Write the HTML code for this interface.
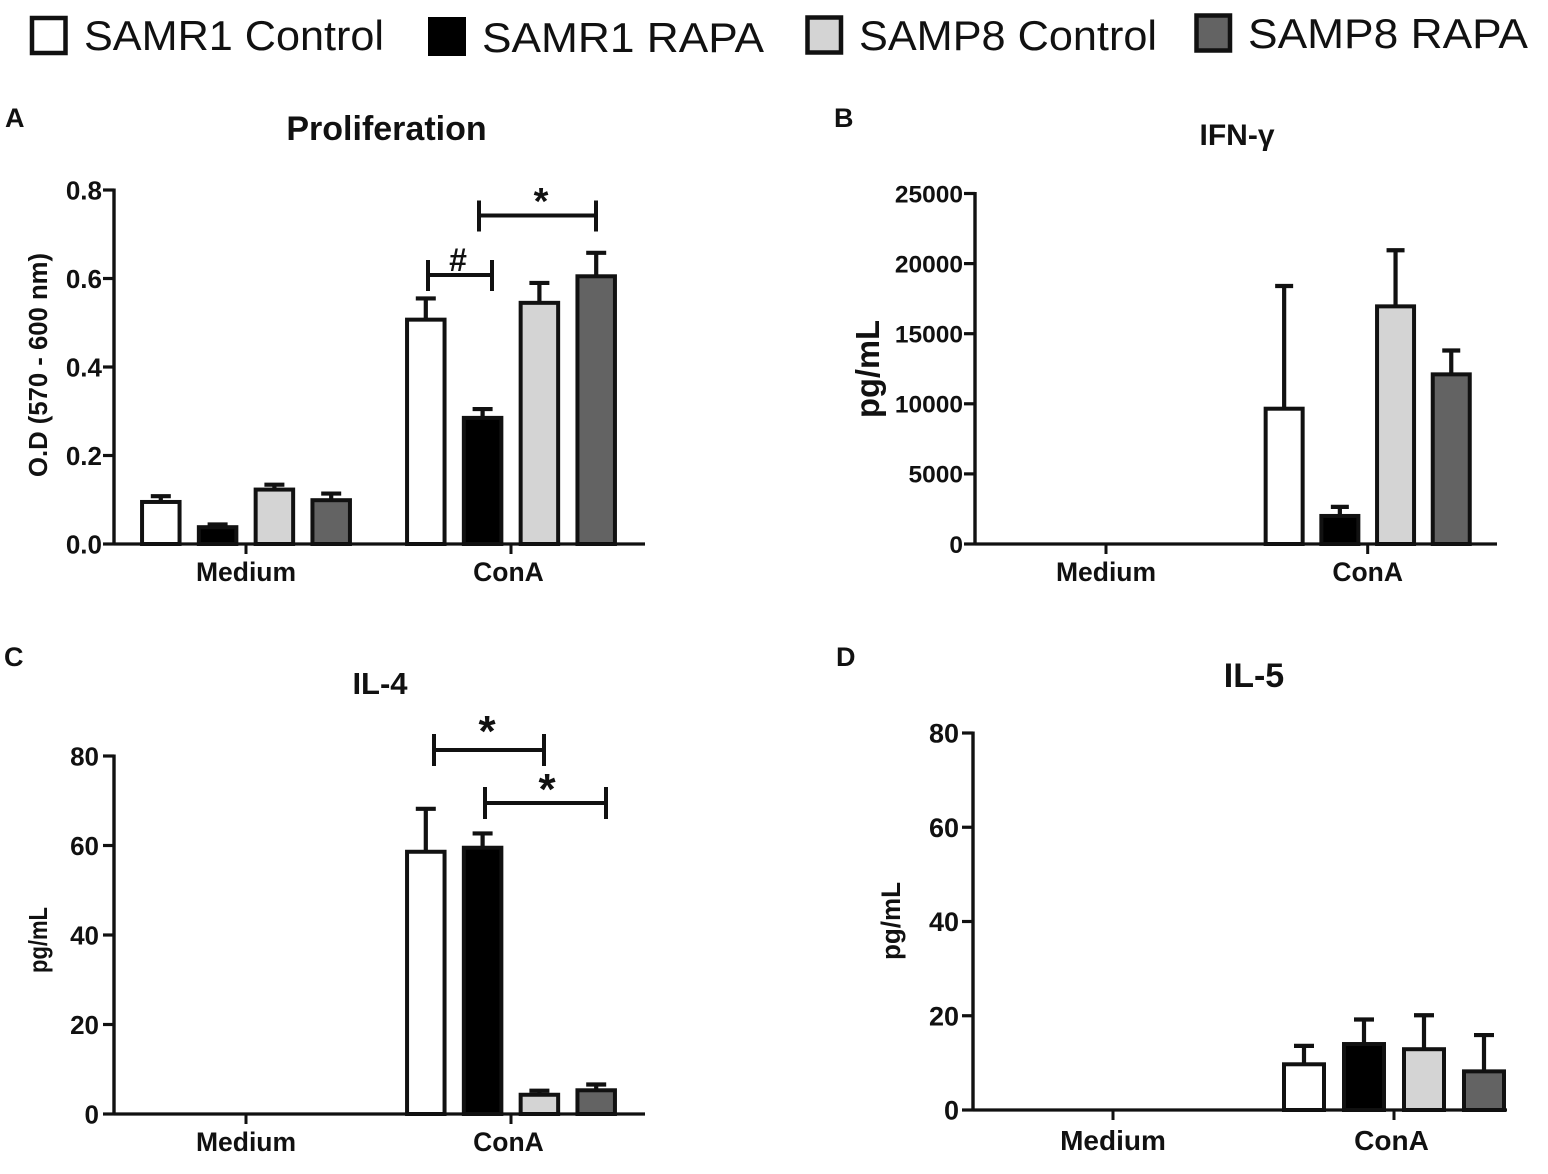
<!DOCTYPE html>
<html lang="en">
<head>
<meta charset="utf-8">
<title>SAMR1 and SAMP8 bar charts</title>
<style>
html,body{margin:0;padding:0;background:#fff;width:1548px;height:1174px;overflow:hidden}
svg{display:block}
text{font-family:"Liberation Sans",Arial,sans-serif;fill:#111}
.b{font-weight:bold}
</style>
</head>
<body>
<svg id="chart" xmlns="http://www.w3.org/2000/svg" width="1548" height="1174" viewBox="0 0 1548 1174">
  <g>
    <g>
      <rect x="32" y="18" width="33.5" height="35" fill="#fff" stroke="#111" stroke-width="4.5"/>
      <text x="84" y="50" font-size="42" textLength="300" lengthAdjust="spacingAndGlyphs">SAMR1 Control</text>
    </g>
    <g>
      <rect x="428" y="17" width="38" height="39" fill="#000"/>
      <text x="482" y="52" font-size="42" textLength="282" lengthAdjust="spacingAndGlyphs">SAMR1 RAPA</text>
    </g>
    <g>
      <rect x="807.5" y="17.5" width="33.5" height="35" fill="#d4d4d4" stroke="#111" stroke-width="4.5"/>
      <text x="859" y="50" font-size="42" textLength="298" lengthAdjust="spacingAndGlyphs">SAMP8 Control</text>
    </g>
    <g>
      <rect x="1196.5" y="15.5" width="33.5" height="35" fill="#636363" stroke="#111" stroke-width="4.5"/>
      <text x="1248" y="48" font-size="42" textLength="280" lengthAdjust="spacingAndGlyphs">SAMP8 RAPA</text>
    </g>
  </g>
  <text class="b" x="5" y="127" font-size="27">A</text>
  <text class="b" x="834" y="127" font-size="27">B</text>
  <text class="b" x="4" y="666" font-size="27">C</text>
  <text class="b" x="836" y="666" font-size="27">D</text>
</svg>
<script>
// Shared categories and series
const categories = ["Medium", "ConA"];
const seriesNames = ["samr1-control", "samr1-rapa", "samp8-control", "samp8-rapa"];
const seriesFills = ["#ffffff", "#000000", "#d4d4d4", "#636363"];

// Panel A: Proliferation
const proliferationMedium = [0.095, 0.038, 0.123, 0.099];
const proliferationConA = [0.507, 0.285, 0.545, 0.605];
const proliferationMediumErr = [0.013, 0.006, 0.011, 0.015];
const proliferationConAErr = [0.048, 0.02, 0.045, 0.053];
const proliferationTicks = [0, 0.2, 0.4, 0.6, 0.8];
const proliferationTickLabels = ["0.0", "0.2", "0.4", "0.6", "0.8"];

// Panel B: IFN-gamma
const ifnMedium = [0, 0, 0, 0];
const ifnConA = [9650, 2000, 16950, 12100];
const ifnMediumErr = [0, 0, 0, 0];
const ifnConAErr = [8750, 650, 4000, 1700];
const ifnTicks = [0, 5000, 10000, 15000, 20000, 25000];
const ifnTickLabels = ["0", "5000", "10000", "15000", "20000", "25000"];

// Panel C: IL-4
const il4Medium = [0, 0, 0, 0];
const il4ConA = [58.6, 59.5, 4.3, 5.3];
const il4MediumErr = [0, 0, 0, 0];
const il4ConAErr = [9.6, 3.2, 0.9, 1.3];
const il4Ticks = [0, 20, 40, 60, 80];
const il4TickLabels = ["0", "20", "40", "60", "80"];

// Panel D: IL-5
const il5Medium = [0, 0, 0, 0];
const il5ConA = [9.7, 14, 12.9, 8.2];
const il5MediumErr = [0, 0, 0, 0];
const il5ConAErr = [3.9, 5.2, 7.2, 7.7];
const il5Ticks = [0, 20, 40, 60, 80];
const il5TickLabels = ["0", "20", "40", "60", "80"];

const NS = "http://www.w3.org/2000/svg";
const root = document.getElementById("chart");

function make(parent, tag, attrs, text) {
  const el = document.createElementNS(NS, tag);
  for (const k in attrs) el.setAttribute(k, attrs[k]);
  if (text !== undefined) el.textContent = text;
  parent.appendChild(el);
  return el;
}

function drawPanel(p) {
  const yScale = v => p.y0 - (v / p.yMax) * (p.y0 - p.yTop);
  const groupX = g => p.firstGroup + g * p.groupStep;
  const barX = (g, s) => groupX(g) + (s - 1.5) * p.barStep;

  const g = make(root, "g", {});
  
  

  const title = make(g, "text", {class: "b", x: p.titleX, y: p.titleY, "font-size": p.titleSize, "text-anchor": "middle"}, p.title);
  
  

  const yTitle = make(g, "text", {class: "b", transform: "translate(" + p.yTitleX + "," + p.yTitleY + ") rotate(-90)", "font-size": p.yTitleSize, "text-anchor": "middle", textLength: p.yTitleLength, lengthAdjust: "spacingAndGlyphs"}, p.yTitle);
  
  

  [p.groupA, p.groupB].forEach((vals, gi) => {
    const errs = gi === 0 ? p.errA : p.errB;
    vals.forEach((v, si) => {
      if (v <= 0) return;
      const cx = barX(gi, si);
      const top = yScale(v);
      const eTop = yScale(v + errs[si]);
      const errLine = make(g, "path", {d: "M" + cx + " " + top + "V" + eTop + "M" + (cx - p.capW) + " " + eTop + "H" + (cx + p.capW), fill: "none", stroke: "#111", "stroke-width": 4.2});
      
      
      const bar = make(g, "rect", {x: cx - p.barW / 2, y: top, width: p.barW, height: p.y0 - top, fill: seriesFills[si], stroke: "#111", "stroke-width": 4});
      
      
    });
  });

  const yAxis = make(g, "line", {x1: p.x0, x2: p.x0, y1: p.yTop - 1.5, y2: p.y0 + 1.5, stroke: "#111", "stroke-width": 3.4});
  
  
  const xAxis = make(g, "line", {x1: p.x0, x2: p.x1, y1: p.y0, y2: p.y0, stroke: "#111", "stroke-width": 3.2});
  
  

  p.ticks.forEach((t, i) => {
    const y = yScale(t);
    const tick = make(g, "line", {x1: p.x0 - 11, x2: p.x0, y1: y, y2: y, stroke: "#111", "stroke-width": 3.2});
    
    
    const label = make(g, "text", {class: "b", x: p.x0 - p.tickGap, y: y + p.tickSize * 0.36, "font-size": p.tickSize, "text-anchor": "end"}, p.tickLabels[i]);
    
    
  });

  categories.forEach((c, i) => {
    const x = groupX(i);
    const tick = make(g, "line", {x1: x, x2: x, y1: p.y0, y2: p.y0 + 10, stroke: "#111", "stroke-width": 3});
    
    
    const label = make(g, "text", {class: "b", x: x + (i === 1 ? p.conALabelShift : 0), y: p.y0 + p.catGap, "font-size": p.catSize, "text-anchor": "middle"}, c);
    
    
  });
  return g;
}

function bracket(parent, name, x1, x2, y, h1, h2, mark, mx, my, size) {
  const path = make(parent, "path", {d: "M" + x1 + " " + (y - h1) + "V" + (y + h2) + "M" + x1 + " " + y + "H" + x2 + "M" + x2 + " " + (y - h1) + "V" + (y + h2), fill: "none", stroke: "#111", "stroke-width": 4});
  
  
  const label = make(parent, "text", {class: "b", x: mx, y: my, "font-size": size, "text-anchor": "middle"}, mark);
  
  
}

const panelA = drawPanel({name: "proliferation", title: "Proliferation", titleX: 386.5, titleY: 140, titleSize: 34,
  yTitle: "O.D (570 - 600 nm)", yTitleX: 47, yTitleY: 365, yTitleSize: 25.5, yTitleLength: 224,
  x0: 114, x1: 645, y0: 544, yTop: 190, yMax: 0.8, firstGroup: 246, groupStep: 265, barStep: 56.8, barW: 37.5, capW: 10,
  ticks: proliferationTicks, tickLabels: proliferationTickLabels, tickGap: 12, tickSize: 26, catSize: 26.5, catGap: 37, conALabelShift: -2.5,
  groupA: proliferationMedium, groupB: proliferationConA, errA: proliferationMediumErr, errB: proliferationConAErr});
bracket(panelA, "star-significance", 479, 596, 215.5, 15, 16, "*", 541, 214, 38);
bracket(panelA, "hash-significance", 428, 492, 275, 15, 16, "#", 458, 271, 32);

drawPanel({name: "ifn-gamma", title: "IFN-γ", titleX: 1237, titleY: 145, titleSize: 30,
  yTitle: "pg/mL", yTitleX: 879, yTitleY: 369, yTitleSize: 33, yTitleLength: 98,
  x0: 975, x1: 1497, y0: 544, yTop: 193.5, yMax: 25000, firstGroup: 1106, groupStep: 261.7, barStep: 55.7, barW: 37, capW: 9,
  ticks: ifnTicks, tickLabels: ifnTickLabels, tickGap: 12, tickSize: 24.5, catSize: 26.5, catGap: 37, conALabelShift: 0,
  groupA: ifnMedium, groupB: ifnConA, errA: ifnMediumErr, errB: ifnConAErr});

const panelC = drawPanel({name: "il-4", title: "IL-4", titleX: 380, titleY: 694, titleSize: 31,
  yTitle: "pg/mL", yTitleX: 47, yTitleY: 940, yTitleSize: 26, yTitleLength: 66,
  x0: 114, x1: 645, y0: 1114, yTop: 756, yMax: 80, firstGroup: 246, groupStep: 265, barStep: 56.8, barW: 37.5, capW: 10,
  ticks: il4Ticks, tickLabels: il4TickLabels, tickGap: 15, tickSize: 26, catSize: 26.5, catGap: 37, conALabelShift: -2.5,
  groupA: il4Medium, groupB: il4ConA, errA: il4MediumErr, errB: il4ConAErr});
bracket(panelC, "first-star-significance", 434, 544, 750, 16, 16, "*", 487, 746, 44);
bracket(panelC, "second-star-significance", 485, 606, 803, 16, 16, "*", 547, 804, 44);

drawPanel({name: "il-5", title: "IL-5", titleX: 1254, titleY: 687, titleSize: 34,
  yTitle: "pg/mL", yTitleX: 900, yTitleY: 921, yTitleSize: 26.5, yTitleLength: 78,
  x0: 973, x1: 1507, y0: 1110, yTop: 733, yMax: 80, firstGroup: 1113, groupStep: 281, barStep: 60, barW: 40, capW: 10,
  ticks: il5Ticks, tickLabels: il5TickLabels, tickGap: 14, tickSize: 27, catSize: 28, catGap: 40, conALabelShift: -2.5,
  groupA: il5Medium, groupB: il5ConA, errA: il5MediumErr, errB: il5ConAErr});
</script>
</body>
</html>
